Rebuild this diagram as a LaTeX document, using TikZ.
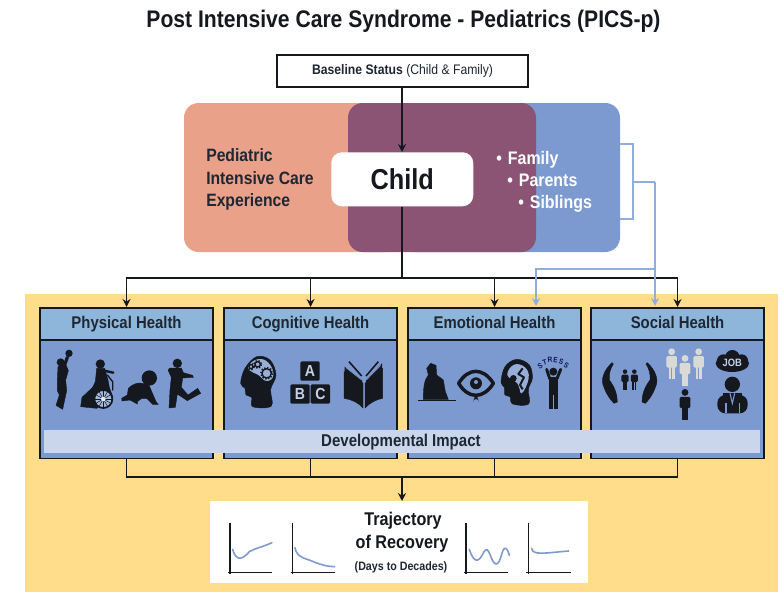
\documentclass[tikz,border=0pt]{standalone}
\usepackage{fontspec}
\setmainfont[FakeStretch=0.88]{Liberation Sans}
\usetikzlibrary{arrows.meta,calc}
\definecolor{ink}{HTML}{15191F}
\definecolor{txt}{HTML}{1E2733}
\definecolor{yel}{HTML}{FFDD8A}
\definecolor{sal}{HTML}{E9A18A}
\definecolor{plum}{HTML}{8B5474}
\definecolor{blu}{HTML}{7C9ACF}
\definecolor{head}{HTML}{8DB6DA}
\definecolor{band}{HTML}{C9D6EC}
\definecolor{lnk}{HTML}{8FAEDC}
\definecolor{crv}{HTML}{7F9AD0}
\definecolor{pale}{HTML}{D9D9D6}
\tikzset{
 px/.style={x=0.75pt,y=-0.75pt},
 zoomed/.style={x=0.25pt,y=-0.25pt},
 hbox/.style={draw=ink,line width=1.2pt,fill=blu,anchor=north west,minimum width=130.1pt,minimum height=112.9pt,inner sep=0pt},
 htitle/.style={draw=ink,line width=1.2pt,fill=head,anchor=north west,minimum width=130.1pt,minimum height=24pt,inner sep=0pt,text height=9.2pt,text depth=2.7pt,text=txt,font=\fontsize{12.7}{14}\selectfont\bfseries},
 conn/.style={draw=ink,line width=1.1pt},
 arr/.style={conn,-{Stealth[length=6pt,width=6pt]}},
 blink/.style={draw=lnk,line width=1.1pt},
 blarr/.style={blink,-{Stealth[length=6pt,width=6pt]}},
 limb/.style={draw=ink,line cap=round,line join=round},
 sil/.style={fill=ink,draw=ink,line width=.3pt,line join=round},
 axis/.style={draw=ink,line width=1pt},
 curve/.style={draw=crv,line width=1.2pt,line cap=round},
 blocklabel/.style={fill=ink,rounded corners=1pt,minimum size=14.5pt,inner sep=0pt,text=blu!45!white,font=\fontsize{12}{13}\selectfont\bfseries},
 famtext/.style={anchor=base west,text=white,inner sep=0pt,font=\fontsize{13.6}{16}\selectfont\bfseries},
 trajtext/.style={anchor=base,text=ink,inner sep=0pt,font=\fontsize{13.8}{16}\selectfont\bfseries},
}
\newcommand{\person}[4]{% x, y(top of head), height, colour
 \fill[#4] (#1,#2+.11*#3) circle[radius=.11*#3];
 \fill[#4,rounded corners=1pt] (#1-.17*#3,#2+.25*#3) rectangle (#1+.17*#3,#2+.62*#3);
 \fill[#4] (#1-.1*#3,#2+.6*#3) rectangle (#1-.01*#3,#2+#3);
 \fill[#4] (#1+.01*#3,#2+.6*#3) rectangle (#1+.1*#3,#2+#3);
}
\begin{document}
\begin{tikzpicture}[px]
\useasboundingbox (0,0) rectangle (784,592);
\fill[white] (0,0) rectangle (784,592);
\fill[yel] (25,294) rectangle (778,592);
\node[font=\fontsize{18}{22}\selectfont\bfseries,text=ink,inner sep=0pt] (title) at (403.5,21) {Post Intensive Care Syndrome - Pediatrics (PICS-p)};

% overlapping panels
\fill[blu,rounded corners=11pt] (400,103) rectangle (620,252);
\fill[sal,rounded corners=11pt] (184,103) rectangle (400,252);
\fill[plum,rounded corners=11pt] (348,103) rectangle (536,252);

\node[draw=ink,line width=1.2pt,fill=white,anchor=north west,minimum width=188.6pt,minimum height=24pt,inner sep=0pt,font=\fontsize{10.4}{12}\selectfont,text=txt] (base) at (276,54) {\textbf{Baseline Status} (Child \& Family)};
\node[fill=white,rounded corners=8pt,anchor=north west,minimum width=106.5pt,minimum height=40.5pt,inner sep=0pt,font=\fontsize{21.6}{26}\selectfont\bfseries,text=ink] (child) at (331,152) {Child};
\node[anchor=west,align=left,inner sep=0pt,text=txt,font=\fontsize{13.4}{17}\selectfont\bfseries] (pice) at (206,179.5) {Pediatric\\Intensive Care\\Experience};
\node[famtext] (fam) at (496,164) {•\,\,Family};
\node[famtext] (par) at (507,186) {•\,\,Parents};
\node[famtext] (sib) at (518,208) {•\,\,Siblings};

% health boxes
\node[hbox] (pb) at (39,307) {};
\node[hbox] (cb) at (223,307) {};
\node[hbox] (eb) at (407,307) {};
\node[hbox] (sb) at (590,307) {};
\node[htitle] (pt) at (39,307) {Physical Health};
\node[htitle] (ct) at (223,307) {Cognitive Health};
\node[htitle] (et) at (407,307) {Emotional Health};
\node[htitle] (st) at (590,307) {Social Health};
\node[fill=band,anchor=north west,minimum width=537pt,minimum height=17.25pt,inner sep=0pt,text=txt,font=\fontsize{12.8}{14}\selectfont\bfseries] (dev) at (44,430) {\hspace*{-2pt}Developmental Impact};

\node[fill=white,anchor=north west,minimum width=283.5pt,minimum height=61.5pt,inner sep=0pt] (traj) at (210,501) {};
\node[trajtext] (t1) at (403,525.5) {Trajectory};
\node[trajtext] (t2) at (402,548) {of Recovery};
\node[text=txt,inner sep=0pt,font=\fontsize{9.1}{10}\selectfont\bfseries] (t3) at (401,567) {(Days to Decades)};

% connectors
\coordinate (bus) at (402,278);
\coordinate (low) at (402,477);
\draw[arr] (base.south -| bus) -- (child.north -| bus);
\draw[conn] (child.south -| bus) -- (bus);
\draw[arr] (bus) -| (pt.north);
\draw[arr] (bus) -| (ct.north);
\draw[arr] (bus) -| (et.north);
\draw[arr] (bus) -| (st.north);
\draw[conn] (pb.south) |- (low);
\draw[conn] (cb.south) |- (low);
\draw[conn] (eb.south) |- (low);
\draw[conn] (sb.south) |- (low);
\draw[arr] (low) -- (traj.north -| low);
% family links
\coordinate (bt) at (620,144); \coordinate (bb) at (620,219);
\coordinate (bm) at (633,182); \coordinate (bs) at (655,182);
\coordinate (sp) at (655,269);
\coordinate (ea) at (536,306); \coordinate (sa) at (655,306);
\draw[blink] (bt) -| (bm) |- (bb);
\draw[blink] (bm) -- (bs);
\draw[blarr] (bs) -- (sa);
\draw[blarr] (sp) -| (ea);

% ---------- Physical + Cognitive icons
\begin{scope}[shift={(30,300)},zoomed]
 % ball player
 \fill[ink] (117,160) circle[radius=11];
 \fill[ink] (92,187) circle[radius=12];
 \draw[limb,line width=2.4pt] (100,205) -- (112,172);
 \fill[sil] (84,200) -- (106,190) -- (115,212) -- (107,240) -- (110,272) -- (98,328) -- (78,316) -- (88,285) -- (82,272) -- (82,240) -- cycle;
 % wheelchair
 \fill[ink] (211,192) circle[radius=14];
 \fill[sil] (200,205) -- (224,205) -- (234,240) -- (238,262) -- (248,290) -- (200,325) -- (152,320) -- (156,292) -- (188,262) -- (196,245) -- cycle;
 \draw[limb,line width=1.8pt] (222,212) -- (250,218);
 \draw[limb,line width=1pt] (232,225) -- (248,245) -- (248,270);
 \filldraw[fill=blu!70!white,draw=ink,line width=1.3pt] (220,297) circle[radius=27];
 \foreach \a in {0,30,...,330} \draw[ink,line width=.4pt] (220,297) -- ++(\a:27);
 \fill[white!80!blu] (220,297) circle[radius=7];
 % crawling baby
 \fill[ink] (358,234) circle[radius=23];
 \fill[sil] (295,265) .. controls (315,245) and (340,245) .. (358,258) -- (378,305) -- (385,313) -- (368,313) -- (350,295) -- (335,295) -- (322,305) -- (322,312) -- (300,300) -- (276,303) -- (275,295) -- (292,285) -- cycle;
 % runner
 \fill[ink] (442,190) circle[radius=14];
 \fill[sil] (430,204) -- (454,204) -- (460,218) -- (488,226) -- (490,232) -- (458,234) -- (454,262) -- (474,285) -- (503,265) -- (512,280) -- (472,302) -- (442,282) -- (436,322) -- (417,324) -- (420,270) -- (424,232) -- (414,210) -- (420,204) -- cycle;
 % brain head
 \fill[sil] plot[smooth cycle,tension=.6] coordinates {(632,250) (645,205) (680,170) (720,180) (738,225) (722,268) (724,318) (668,320) (665,292) (648,285) (645,265)};
 \fill[blu!80!white] plot[smooth cycle,tension=.8] coordinates {(654,200) (682,178) (715,188) (730,225) (710,243) (685,225) (665,215)};
 \foreach \p/\r in {(663,200)/6,(683,193)/8,(710,220)/14} {
  \draw[ink,line width=1pt] \p circle[radius=\r];
  \draw[ink,line width=1.4pt,dash pattern=on 1pt off 1.2pt] \p circle[radius=\r+3];
 }
 % blocks
 \node[blocklabel] (ba) at (840,213) {A};
 \node[blocklabel] (bbb) at (810,282) {B};
 \node[blocklabel] (bc) at (871,282) {C};
 % book
 \fill[ink] (944,200) -- (996,240) -- (996,262) -- (944,225) -- cycle;
 \fill[ink] (1056,190) -- (1008,240) -- (1008,262) -- (1056,225) -- cycle;
 \fill[sil] (942,215) .. controls (965,220) and (985,232) .. (999,250) -- (999,324) .. controls (985,308) and (965,298) .. (942,295) -- cycle;
 \fill[sil] (1005,250) .. controls (1020,232) and (1040,220) .. (1058,205) -- (1058,295) .. controls (1040,298) and (1020,308) .. (1005,324) -- cycle;
 \draw[blu,line width=.5pt] (948,203) -- (995,240) (1052,196) -- (1009,240);
 \draw[ink,line width=1.2pt] (957,185) -- (995,228) (1045,185) -- (1008,228);
\end{scope}

% ---------- Emotional + Social icons
\begin{scope}[shift={(400,300)},zoomed]
 % sitting figure
 \fill[sil] (70,298) .. controls (70,265) and (72,240) .. (85,225) -- (80,205) -- (92,190) -- (108,196) -- (110,225) -- (130,240) -- (136,275) -- (145,298) -- cycle;
 \draw[ink,line width=1.2pt] (54,302) -- (168,302);
 % eye
 \draw[ink,line width=2.6pt,line join=round] (176,250) .. controls (205,202) and (250,202) .. (280,250) .. controls (250,298) and (205,298) .. cycle;
 \fill[ink] (228,250) circle[radius=18];
 \fill[blu] (228,246) circle[radius=6];
 \fill[ink] (228,280) -- (237,306) arc[start angle=0,end angle=-180,radius=9] -- cycle;
 % head with crack
 \fill[sil] plot[smooth cycle,tension=.6] coordinates {(303,247) (315,200) (350,178) (388,195) (397,235) (385,268) (386,312) (338,312) (330,290) (315,285) (313,262)};
 \fill[blu!80!white] plot[smooth cycle,tension=.7] coordinates {(322,225) (342,194) (375,202) (386,235) (365,280) (352,250)};
 \draw[ink,line width=1.5pt,line join=round] (368,205) -- (355,222) -- (372,232) -- (360,255) -- (368,268);
 \fill[ink] (340,235) circle[radius=10];
 \fill[ink] (352,270) circle[radius=7];
 % stress figure
 \fill[ink] (460,215) circle[radius=12];
 \draw[limb,line width=2.2pt] (440,208) -- (449,236) -- (471,236) -- (482,208);
 \fill[ink] (447,233) rectangle (475,285);
 \fill[ink] (447,280) rectangle (459,326);
 \fill[ink] (463,280) rectangle (475,326);
 \foreach \l/\x/\y/\r in {S/420/197/32,T/434/186/18,R/450/180/5,E/467/180/-6,S/484/185/-18,S/499/195/-32}
  \node[text=ink!70!blue,inner sep=0pt,rotate=\r,font=\fontsize{5.6}{6}\selectfont\bfseries] at (\x,\y) {\l};
 % hands
 \fill[sil] (636,188) .. controls (612,210) and (600,240) .. (612,262) .. controls (620,285) and (632,300) .. (642,310) -- (652,306) .. controls (652,285) and (645,262) .. (628,240) .. controls (626,220) and (632,205) .. (640,192) -- cycle;
 \fill[sil] (742,188) .. controls (766,210) and (778,240) .. (766,262) .. controls (758,285) and (746,300) .. (736,310) -- (726,306) .. controls (726,285) and (733,262) .. (750,240) .. controls (752,220) and (746,205) .. (738,192) -- cycle;
 \person{675}{208}{62}{ink}
 \person{703}{208}{62}{ink}
 % people
 \person{815}{145}{93}{pale}
 \person{855}{165}{93}{pale}
 \person{896}{145}{93}{pale}
 \person{855}{267}{93}{ink}
 % job
 \fill[ink] (997,190) ellipse[x radius=50,y radius=26];
 \fill[ink] (997,172) circle[radius=22];
 \fill[ink] (970,182) circle[radius=19];
 \fill[ink] (1025,182) circle[radius=19];
 \node[text=blu!45!white,inner sep=0pt,font=\fontsize{8}{9}\selectfont\bfseries] (job) at (997,188) {JOB};
 \fill[ink] (997,253) circle[radius=23];
 \fill[ink,rounded corners=6pt] (952,340) -- (952,285) -- (1043,285) -- (1043,340) -- cycle;
 \fill[ink] (970,278) rectangle (1025,300);
 \draw[blu,line width=.8pt] (978,340) -- (978,310) (1018,340) -- (1018,310);
 \draw[blu,line width=.8pt] (990,280) -- (997,310) -- (1004,280);
\end{scope}

% ---------- Recovery charts
\begin{scope}[shift={(200,470)},zoomed]
 \foreach \x/\e in {90/216,278/404,798/925,985/1112} {
  \draw[axis] (\x,158) -- (\x,312);
  \draw[axis] (\x-6,307) -- (\e,307);
 }
 \draw[curve] (98,238) .. controls (105,262) and (118,280) .. (148,245) .. controls (165,235) and (190,230) .. (216,218);
 \draw[curve] (285,233) .. controls (290,265) and (320,265) .. (345,277) .. controls (365,285) and (385,290) .. (404,290);
 \draw[curve] (808,238) .. controls (825,290) and (840,270) .. (852,245) .. controls (868,220) and (872,280) .. (888,282) .. controls (903,282) and (905,235) .. (915,235) .. controls (922,235) and (926,248) .. (928,256);
 \draw[curve] (995,235) .. controls (998,258) and (1040,248) .. (1106,243);
\end{scope}
\end{tikzpicture}
\end{document}
